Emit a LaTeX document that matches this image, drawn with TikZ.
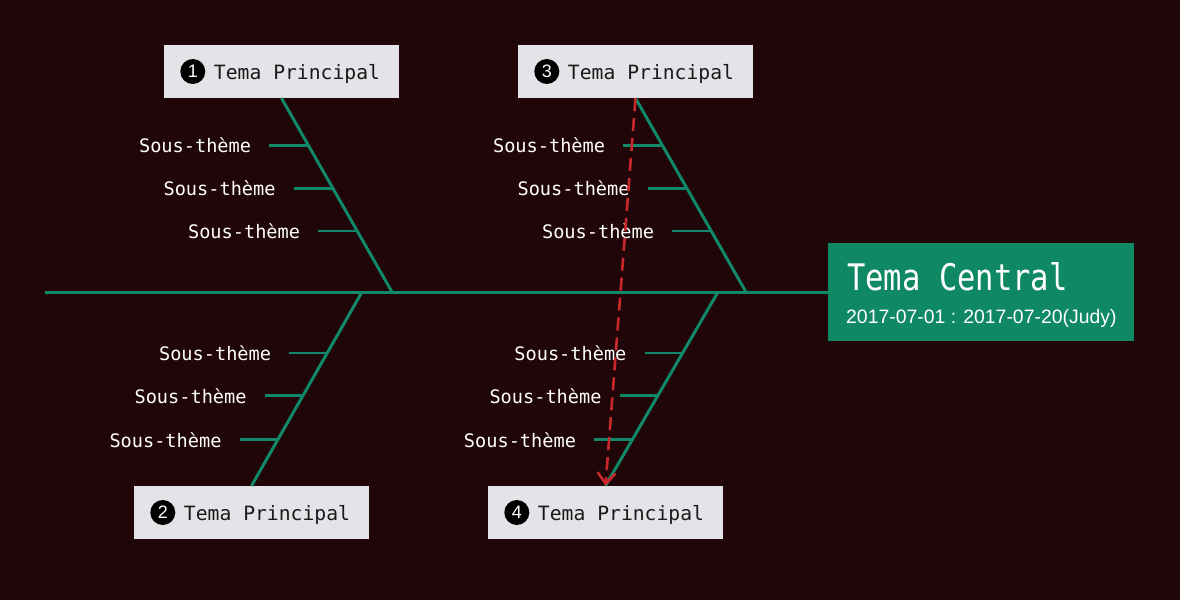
\documentclass[tikz,border=0pt]{standalone}
\usepackage{fontspec}
\usetikzlibrary{calc,arrows.meta}
\newfontfamily\monofnt{DejaVu Sans Mono}
\newfontfamily\arialfnt{Liberation Sans}
\definecolor{bgc}{HTML}{200608}
\definecolor{boneg}{HTML}{11886A}
\definecolor{boxg}{HTML}{0F8864}
\definecolor{boxgrey}{HTML}{E4E4E8}
\definecolor{redarr}{HTML}{C8282A}
\tikzset{
  bone/.style={draw=boneg, line width=3pt},
  mainbox/.style={rectangle, fill=boxgrey, minimum width=235pt, minimum height=53pt, inner sep=0pt,
    text height=15pt, text depth=0pt,
    font=\monofnt\fontsize{19.7pt}{22pt}\selectfont, text=black!90},
  numdot/.style={circle, fill=black, minimum size=25pt, inner sep=0pt, text=white,
    font=\arialfnt\fontsize{18pt}{18pt}\selectfont},
  sub/.style={anchor=east, inner sep=0pt, text=white, font=\monofnt\fontsize{18.6pt}{20pt}\selectfont},
  twig/.style={draw=boneg, line width=2.8pt},
}
\begin{document}
\begin{tikzpicture}[x=1pt,y=-1pt]
\fill[bgc] (0,0) rectangle (1180,600);
\useasboundingbox (0,0) rectangle (1180,600);

% central box
\node[rectangle, fill=boxg, minimum width=306pt, minimum height=98pt, inner sep=0pt] (ctr) at (981,292) {};
\node[anchor=base west, inner sep=0pt, text=white, font=\monofnt\fontsize{30.5pt}{32pt}\selectfont] (ctit) at (847,290) {\scalebox{1}[1.2]{Tema Central}};
\node[anchor=base west, inner sep=0pt, text=white, font=\arialfnt\fontsize{19.4pt}{20pt}\selectfont] (cdate) at (846,323) {2017-07-01 : 2017-07-20(Judy)};

% spine
\coordinate (tail) at (45,292);
\draw[bone] (tail) -- (ctr.west);

% main boxes
\node[mainbox] (m1) at (281.5,71.5) {\hspace*{31pt}Tema Principal};
\node[mainbox] (m3) at (635.5,71.5) {\hspace*{31pt}Tema Principal};
\node[mainbox] (m2) at (251.5,512.5) {\hspace*{31pt}Tema Principal};
\node[mainbox] (m4) at (605.5,512.5) {\hspace*{31pt}Tema Principal};
\node[numdot] (n1) at ($(m1.west)+(29,0)$) {1};
\node[numdot] (n3) at ($(m3.west)+(29,0)$) {3};
\node[numdot] (n2) at ($(m2.west)+(29,0)$) {2};
\node[numdot] (n4) at ($(m4.west)+(29,0)$) {4};

% bone joints on spine
\coordinate (b1) at (392,292);
\coordinate (b3) at (746,292);
\coordinate (b2) at (362,292);
\coordinate (b4) at (718,292);

\draw[bone] (m1.south) -- (b1);
\draw[bone] (m3.south) -- (b3);
\draw[bone] (b2) -- (m2.north);
\draw[bone] (b4) -- (m4.north);

% sub-branches, upper bones
\foreach \m/\b/\k in {m1/b1/1, m3/b3/3}{
  \foreach \t/\j in {0.2423/1, 0.4639/2, 0.6856/3}{
    \coordinate (s\k\j) at ($(\m.south)!\t!(\b)$);
    \node[sub] (l\k\j) at ($(s\k\j)+(-57,0)$) {Sous-thème};
    \draw[twig] (s\k\j) -- ($(l\k\j.east)+(18,0)$);
  }
}
% sub-branches, lower bones
\foreach \m/\b/\k in {m2/b2/2, m4/b4/4}{
  \foreach \t/\j in {0.3144/1, 0.536/2, 0.763/3}{
    \coordinate (s\k\j) at ($(\b)!\t!(\m.north)$);
    \node[sub] (l\k\j) at ($(s\k\j)+(-56,0)$) {Sous-thème};
    \draw[twig] (s\k\j) -- ($(l\k\j.east)+(18,0)$);
  }
}

% red dashed arrow
\draw[draw=redarr, line width=2.6pt, dash pattern=on 13pt off 7pt,
  -{Straight Barb[length=11pt,width=18pt,line width=2.6pt]}] (m3.south) -- (m4.north);
\end{tikzpicture}
\end{document}
